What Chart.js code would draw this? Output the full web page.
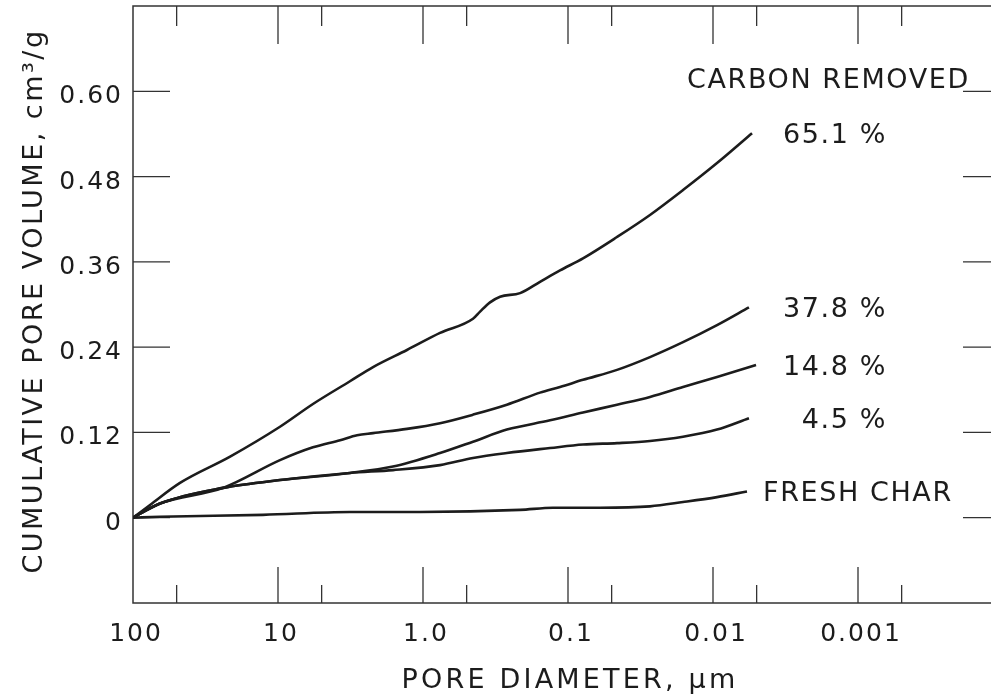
<!DOCTYPE html>
<html>
<head>
<meta charset="utf-8">
<script src="https://cdn.jsdelivr.net/npm/chart.js@4.4.0/dist/chart.umd.min.js"></script>
<style>
  html, body { margin: 0; padding: 0; background: #fff; overflow: hidden; }
  #wrap { width: 1012px; height: 700px; }
</style>
</head>
<body>
<div id="wrap"><canvas id="chart" width="1012" height="700"></canvas></div>
<script>
// Pore diameter (um) and cumulative pore volume (cm3/g)
const diam651 = [100, 76.3, 47.4, 21.4, 9.69, 5.74, 3.19, 2.21, 1.29, 0.763, 0.452, 0.404, 0.345, 0.294, 0.214, 0.156, 0.1135, 0.0788, 0.0459, 0.0272, 0.0161, 0.00938, 0.00538];
const vol651  = [0, 0.018, 0.049, 0.086, 0.128, 0.160, 0.192, 0.212, 0.236, 0.260, 0.280, 0.290, 0.303, 0.311, 0.316, 0.332, 0.348, 0.365, 0.395, 0.426, 0.461, 0.499, 0.541];

const diam378 = [100, 65.1, 23.9, 9.69, 5.74, 3.73, 2.85, 2.21, 1.29, 0.763, 0.452, 0.264, 0.156, 0.1135, 0.0788, 0.0459, 0.0272, 0.0161, 0.00938, 0.00565];
const vol378  = [0, 0.020, 0.042, 0.081, 0.099, 0.109, 0.116, 0.119, 0.125, 0.133, 0.145, 0.159, 0.176, 0.184, 0.194, 0.208, 0.226, 0.247, 0.271, 0.296];

const diam148 = [100, 65.1, 23.9, 9.69, 3.19, 1.61, 0.763, 0.452, 0.264, 0.133, 0.0788, 0.0459, 0.0272, 0.0161, 0.00938, 0.00505];
const vol148  = [0, 0.020, 0.042, 0.053, 0.063, 0.072, 0.091, 0.107, 0.124, 0.137, 0.148, 0.159, 0.170, 0.184, 0.198, 0.215];

const diam45 = [100, 65.1, 23.9, 9.69, 3.19, 1.61, 0.763, 0.452, 0.264, 0.133, 0.0788, 0.0459, 0.0272, 0.0161, 0.00938, 0.00565];
const vol45  = [0, 0.020, 0.042, 0.053, 0.063, 0.067, 0.074, 0.084, 0.091, 0.098, 0.103, 0.105, 0.108, 0.114, 0.124, 0.140];

const diamFresh = [100, 65.1, 12.7, 3.19, 1.05, 0.214, 0.127, 0.0601, 0.0272, 0.0161, 0.00938, 0.00583];
const volFresh  = [0, 0.0014, 0.004, 0.008, 0.008, 0.011, 0.014, 0.014, 0.016, 0.022, 0.029, 0.037];

const seriesNames = ['65.1 %', '37.8 %', '14.8 %', '4.5 %', 'FRESH CHAR'];

const yTicks = [0, 0.12, 0.24, 0.36, 0.48, 0.60];
const yTickLabels = ['0', '0.12', '0.24', '0.36', '0.48', '0.60'];
const xMajor = [100, 10, 1, 0.1, 0.01, 0.001];
const xTickLabels = ['100', '10', '1.0', '0.1', '0.01', '0.001'];
const xMinor = [50, 5, 0.5, 0.05, 0.005, 0.0005];

function toPoints(xs, ys) {
    return xs.map((d, i) => ({ x: d, y: ys[i] }));
}

const curves = [
    toPoints(diam651, vol651),
    toPoints(diam378, vol378),
    toPoints(diam148, vol148),
    toPoints(diam45, vol45),
    toPoints(diamFresh, volFresh)
];

const INK = '#1c1c1c';
const FONT = '"DejaVu Sans", "Liberation Sans", sans-serif';

// frame, inward ticks and all the lettering
const paperPlugin = {
    id: 'paper',
    beforeDraw(chart) {
        const ctx = chart.ctx;
        ctx.save();
        ctx.fillStyle = '#fff';
        ctx.fillRect(0, 0, chart.width, chart.height);
        ctx.restore();
    },
    beforeDatasetsDraw(chart) {
        const { ctx, chartArea: a, scales: { x, y } } = chart;
        ctx.save();
        ctx.strokeStyle = '#333';
        ctx.lineWidth = 1.5;
        ctx.strokeRect(a.left, a.top, a.right - a.left, a.bottom - a.top);

        ctx.lineWidth = 1.3;
        ctx.beginPath();
        yTicks.forEach(v => {
            const py = y.getPixelForValue(v);
            ctx.moveTo(a.left, py); ctx.lineTo(a.left + 37, py);
            ctx.moveTo(a.right, py); ctx.lineTo(a.right - 40, py);
        });
        xMajor.slice(1).forEach(v => {
            const px = x.getPixelForValue(v);
            ctx.moveTo(px, a.bottom); ctx.lineTo(px, a.bottom - 36);
            ctx.moveTo(px, a.top); ctx.lineTo(px, a.top + 38);
        });
        xMinor.forEach(v => {
            const px = x.getPixelForValue(v);
            ctx.moveTo(px, a.bottom); ctx.lineTo(px, a.bottom - 18);
            ctx.moveTo(px, a.top); ctx.lineTo(px, a.top + 20);
        });
        ctx.stroke();
        ctx.restore();
    },
    afterDraw(chart) {
        const { ctx, scales: { x, y } } = chart;
        ctx.save();
        ctx.fillStyle = INK;

        // tick labels
        ctx.font = '25px ' + FONT;
        ctx.letterSpacing = '2px';
        ctx.textAlign = 'right';
        yTicks.forEach((v, i) => {
            ctx.fillText(yTickLabels[i], 123, y.getPixelForValue(v) + 12);
        });
        ctx.textAlign = 'center';
        xMajor.forEach((v, i) => {
            ctx.fillText(xTickLabels[i], x.getPixelForValue(v) + 3, 641);
        });

        // axis titles
        ctx.font = '27px ' + FONT;
        ctx.letterSpacing = '3.2px';
        ctx.fillText('PORE DIAMETER, \u00b5m', 570, 688);

        ctx.save();
        ctx.translate(42, 301);
        ctx.rotate(-Math.PI / 2);
        ctx.letterSpacing = '2.5px';
        ctx.fillText('CUMULATIVE PORE VOLUME, cm\u00b3/g', 0, 0);
        ctx.restore();

        // curve labels, placed at the end of each curve
        ctx.letterSpacing = '1.6px';
        ctx.textAlign = 'left';
        ctx.fillText('CARBON REMOVED', 687, 88);
        curves.forEach((pts, i) => {
            const py = y.getPixelForValue(pts[pts.length - 1].y) + 10;
            if (i < 4) {
                ctx.textAlign = 'right';
                ctx.fillText(seriesNames[i], 887, py);
            } else {
                ctx.textAlign = 'left';
                ctx.fillText(seriesNames[i], 763, py);
            }
        });
        ctx.restore();
    }
};

const ctx = document.getElementById('chart').getContext('2d');

new Chart(ctx, {
    type: 'scatter',
    data: {
        datasets: curves.map((pts, i) => ({
            label: seriesNames[i],
            data: pts,
            showLine: true,
            borderColor: INK,
            borderWidth: 2.6,
            pointRadius: 0,
            fill: false,
            cubicInterpolationMode: 'monotone'
        }))
    },
    options: {
        responsive: false,
        animation: false,
        layout: {
            padding: { left: 133, top: 6, right: 9, bottom: 97 }
        },
        scales: {
            x: {
                type: 'logarithmic',
                reverse: true,
                min: 0.0001,
                max: 100,
                display: false
            },
            y: {
                type: 'linear',
                min: -0.12,
                max: 0.72,
                display: false
            }
        },
        plugins: {
            legend: { display: false },
            tooltip: { enabled: false }
        }
    },
    plugins: [paperPlugin]
});
</script>
</body>
</html>
